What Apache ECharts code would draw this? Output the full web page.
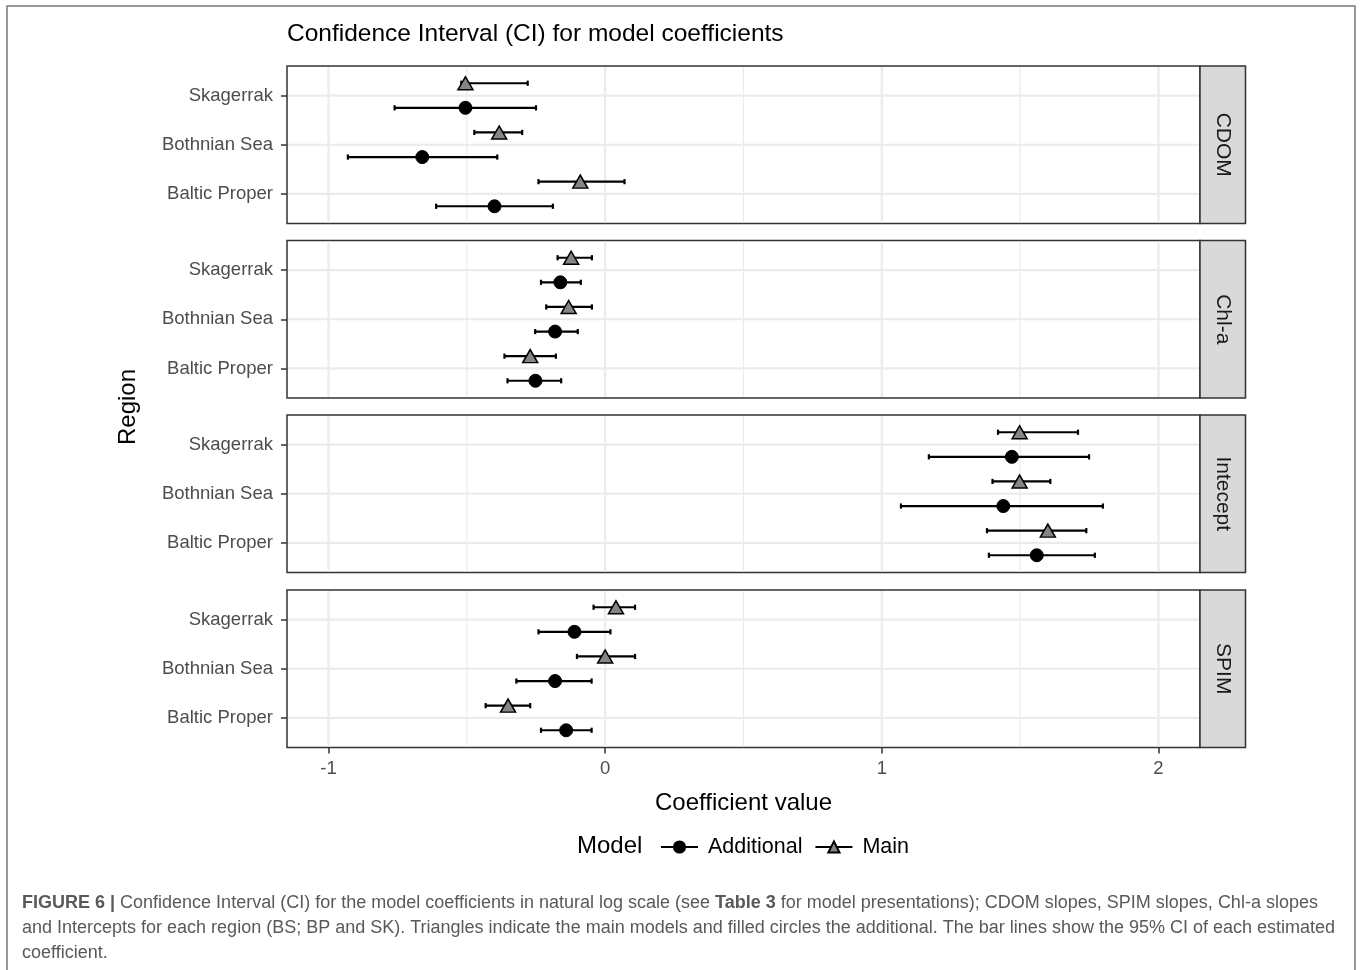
<!DOCTYPE html>
<html><head><meta charset="utf-8">
<script src="https://cdn.jsdelivr.net/npm/echarts@6/dist/echarts.min.js"></script>
<style>html,body{margin:0;padding:0;background:#fff}#c{width:1362px;height:970px}</style>
</head><body><div id="c"></div><script>
// ---------- data ----------
const categories = ['Skagerrak', 'Bothnian Sea', 'Baltic Proper'];
const panelNames = ['CDOM', 'Chl-a', 'Intecept', 'SPIM'];
const xTickValues = [-1, 0, 1, 2];
const xMinorValues = [-0.5, 0.5, 1.5];
const modelNames = ['Additional', 'Main'];

// CDOM (order: Skagerrak, Bothnian Sea, Baltic Proper)
const cdomMainEst = [-0.505, -0.383, -0.090];
const cdomMainLow = [-0.520, -0.473, -0.241];
const cdomMainHigh = [-0.280, -0.300, 0.070];
const cdomAddEst = [-0.505, -0.661, -0.400];
const cdomAddLow = [-0.761, -0.930, -0.611];
const cdomAddHigh = [-0.250, -0.390, -0.189];
// Chl-a
const chlMainEst = [-0.123, -0.132, -0.271];
const chlMainLow = [-0.172, -0.213, -0.364];
const chlMainHigh = [-0.048, -0.048, -0.178];
const chlAddEst = [-0.162, -0.181, -0.252];
const chlAddLow = [-0.232, -0.253, -0.353];
const chlAddHigh = [-0.088, -0.099, -0.159];
// Intecept
const intMainEst = [1.498, 1.498, 1.600];
const intMainLow = [1.420, 1.400, 1.380];
const intMainHigh = [1.709, 1.609, 1.739];
const intAddEst = [1.470, 1.439, 1.560];
const intAddLow = [1.170, 1.069, 1.387];
const intAddHigh = [1.749, 1.799, 1.770];
// SPIM
const spimMainEst = [0.039, 0.000, -0.351];
const spimMainLow = [-0.042, -0.102, -0.432];
const spimMainHigh = [0.108, 0.108, -0.271];
const spimAddEst = [-0.111, -0.181, -0.141];
const spimAddLow = [-0.241, -0.321, -0.232];
const spimAddHigh = [0.019, -0.049, -0.049];

// ---------- layout ----------
const FONT = '"Liberation Sans", Arial, Helvetica, sans-serif';
const gridTops = [66, 240.5, 415, 590];
const gridH = 157.5;
const gridLeft = 287, gridRightEdge = 1200, stripW = 45.5;
const dodge = 0.25;

const panels = [
  { main: [cdomMainEst, cdomMainLow, cdomMainHigh], add: [cdomAddEst, cdomAddLow, cdomAddHigh] },
  { main: [chlMainEst, chlMainLow, chlMainHigh], add: [chlAddEst, chlAddLow, chlAddHigh] },
  { main: [intMainEst, intMainLow, intMainHigh], add: [intAddEst, intAddLow, intAddHigh] },
  { main: [spimMainEst, spimMainLow, spimMainHigh], add: [spimAddEst, spimAddLow, spimAddHigh] }
];

const grids = [], xAxes = [], yAxes = [], series = [], graphics = [];

function gridRender(params, api) {
  const cs = params.coordSys;
  const kind = api.value(2);
  if (kind === 2) {
    const y = api.coord([0, api.value(1)])[1];
    return { type: 'line', shape: { x1: cs.x + 1, y1: y, x2: cs.x + cs.width - 1, y2: y },
      style: { stroke: '#ebebeb', lineWidth: 2.2 } };
  }
  const x = api.coord([api.value(0), 2])[0];
  return { type: 'line', shape: { x1: x, y1: cs.y + 1, x2: x, y2: cs.y + cs.height - 1 },
    style: { stroke: '#ebebeb', lineWidth: kind === 0 ? 2.2 : 1.2 } };
}
function errRender(params, api) {
  const y = api.coord([0, api.value(2)])[1];
  const x1 = api.coord([api.value(0), 0])[0];
  const x2 = api.coord([api.value(1), 0])[0];
  const st = { stroke: '#000', lineWidth: 2.2 };
  const c = 2.6;
  return { type: 'group', children: [
    { type: 'line', shape: { x1: x1, y1: y, x2: x2, y2: y }, style: st },
    { type: 'line', shape: { x1: x1, y1: y - c, x2: x1, y2: y + c }, style: st },
    { type: 'line', shape: { x1: x2, y1: y - c, x2: x2, y2: y + c }, style: st }
  ] };
}

panels.forEach((pd, p) => {
  grids.push({ left: gridLeft, top: gridTops[p], width: gridRightEdge - gridLeft, height: gridH,
    show: true, backgroundColor: '#fff', borderColor: '#333', borderWidth: 1.5 });
  const isBottom = p === panels.length - 1;
  xAxes.push({
    gridIndex: p, type: 'value', min: -1.15, max: 2.15, show: isBottom,
    splitLine: { show: false },
    axisLine: { show: false, onZero: false },
    axisTick: { show: true, customValues: xTickValues, length: 6, lineStyle: { color: '#333', width: 1.5 } },
    axisLabel: { customValues: xTickValues, color: '#4d4d4d', fontSize: 18.5, fontFamily: FONT, margin: 12 },
    name: isBottom ? 'Coefficient value' : '', nameLocation: 'middle', nameGap: 44,
    nameTextStyle: { fontSize: 24, color: '#000', fontFamily: FONT }
  });
  yAxes.push({
    gridIndex: p, type: 'value', min: 0.4, max: 3.6, inverse: true,
    splitLine: { show: false },
    axisLine: { show: false, onZero: false },
    axisTick: { show: true, customValues: [1, 2, 3], length: 6, lineStyle: { color: '#333', width: 1.5 } },
    axisLabel: { customValues: [1, 2, 3], formatter: v => categories[Math.round(v) - 1],
      color: '#4d4d4d', fontSize: 18.5, fontFamily: FONT, margin: 14 }
  });
  const gridData = [].concat(
    xTickValues.map(v => [v, 2, 0]),
    xMinorValues.map(v => [v, 2, 1]),
    categories.map((c, i) => [0, i + 1, 2])
  );
  series.push({ type: 'custom', name: 'grid' + p, xAxisIndex: p, yAxisIndex: p, silent: true, z: 1,
    renderItem: gridRender, encode: { x: 0, y: 1 }, data: gridData, animation: false });

  const [mEst, mLo, mHi] = pd.main;
  const [aEst, aLo, aHi] = pd.add;
  series.push({ type: 'custom', name: 'Main CI ' + p, xAxisIndex: p, yAxisIndex: p, silent: true, z: 2,
    renderItem: errRender, encode: { x: [0, 1], y: 2 },
    data: categories.map((c, i) => [mLo[i], mHi[i], i + 1 - dodge]), animation: false });
  series.push({ type: 'custom', name: 'Additional CI ' + p, xAxisIndex: p, yAxisIndex: p, silent: true, z: 2,
    renderItem: errRender, encode: { x: [0, 1], y: 2 },
    data: categories.map((c, i) => [aLo[i], aHi[i], i + 1 + dodge]), animation: false });
  series.push({ type: 'line', name: 'Additional', xAxisIndex: p, yAxisIndex: p, z: 4, silent: true,
    symbol: 'circle', symbolSize: 13, showSymbol: true,
    itemStyle: { color: '#000', borderColor: '#000', borderWidth: 1 },
    lineStyle: { opacity: 0, width: 2, color: '#000' },
    data: categories.map((c, i) => [aEst[i], i + 1 + dodge]), animation: false });
  series.push({ type: 'line', name: 'Main', xAxisIndex: p, yAxisIndex: p, z: 4, silent: true,
    symbol: 'triangle', symbolSize: [15, 13], showSymbol: true,
    itemStyle: { color: '#858585', borderColor: '#000', borderWidth: 1.5 },
    lineStyle: { opacity: 0, width: 2, color: '#000' },
    data: categories.map((c, i) => [mEst[i], i + 1 - dodge]), animation: false });

  // facet strip
  graphics.push({ type: 'rect', shape: { x: gridRightEdge, y: gridTops[p], width: stripW, height: gridH },
    style: { fill: '#d9d9d9', stroke: '#333', lineWidth: 1.5 }, z: 10 });
  graphics.push({ type: 'text', x: gridRightEdge + stripW / 2, y: gridTops[p] + gridH / 2, rotation: -Math.PI / 2,
    style: { text: panelNames[p], fill: '#1a1a1a', font: '21px ' + FONT, align: 'center', verticalAlign: 'middle' }, z: 11 });
});

// frame
graphics.push({ type: 'rect', shape: { x: 7, y: 6, width: 1348, height: 1100 },
  style: { fill: 'none', stroke: '#7a7a7a', lineWidth: 1.5 }, z: 0 });
// y axis title
graphics.push({ type: 'text', x: 128, y: 407, rotation: Math.PI / 2,
  style: { text: 'Region', fill: '#000', font: '24px ' + FONT, align: 'center', verticalAlign: 'middle' } });
// legend title
graphics.push({ type: 'text', x: 577, y: 846,
  style: { text: 'Model', fill: '#000', font: '24px ' + FONT, align: 'left', verticalAlign: 'middle' } });
// caption
const capColor = '#58595b';
const capSize = 18;
const capRich = { b: { fontWeight: 'bold', fill: capColor, fontSize: capSize, fontFamily: FONT } };
const capLines = [
  '{b|FIGURE 6 |} Confidence Interval (CI) for the model coefficients in natural log scale (see {b|Table 3} for model presentations); CDOM slopes, SPIM slopes, Chl-a slopes',
  'and Intercepts for each region (BS; BP and SK). Triangles indicate the main models and filled circles the additional. The bar lines show the 95% CI of each estimated',
  'coefficient.'
];
capLines.forEach((t, i) => {
  graphics.push({ type: 'text', x: 22, y: 903 + i * 24.8,
    style: { text: t, rich: capRich, fill: capColor, fontSize: capSize, fontFamily: FONT, align: 'left', verticalAlign: 'middle' } });
});

const chart = echarts.init(document.getElementById('c'), null, { renderer: 'canvas' });
chart.setOption({
  backgroundColor: '#fff',
  animation: false,
  textStyle: { fontFamily: FONT },
  title: { text: 'Confidence Interval (CI) for model coefficients', left: 287, top: 22, padding: 0,
    textStyle: { fontSize: 24.5, fontWeight: 'normal', color: '#000', fontFamily: FONT } },
  legend: { data: modelNames, left: 660, top: 836, padding: 0, itemWidth: 37, itemHeight: 14, itemGap: 12,
    selectedMode: false,
    textStyle: { fontSize: 21.5, color: '#000', fontFamily: FONT, padding: [0, 0, 0, 5] },
    lineStyle: { opacity: 1, width: 2, color: '#000' } },
  grid: grids, xAxis: xAxes, yAxis: yAxes, series: series, graphic: graphics
});
</script></body></html>
